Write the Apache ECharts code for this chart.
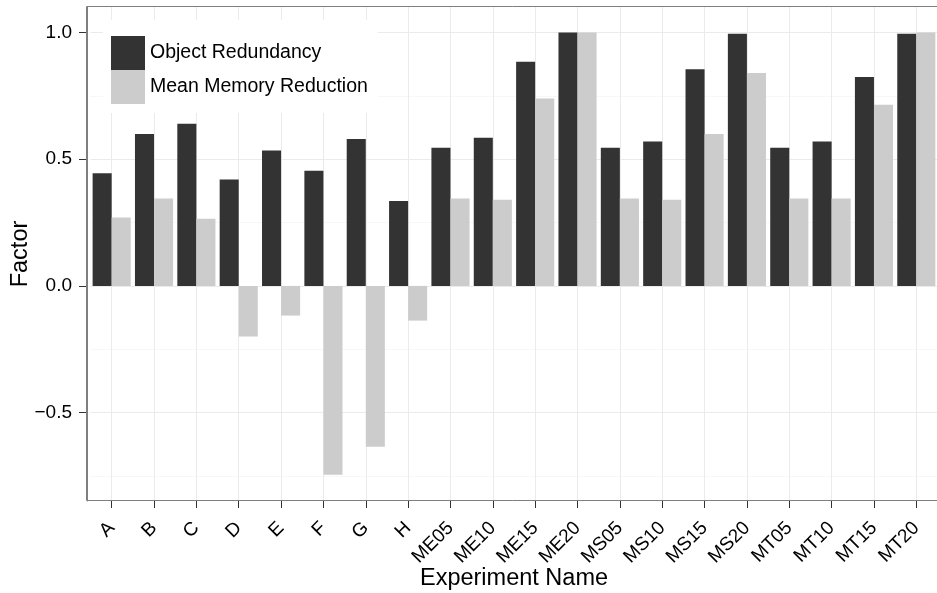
<!DOCTYPE html>
<html>
<head>
<meta charset="utf-8">
<script src="https://cdn.jsdelivr.net/npm/echarts@6/dist/echarts.min.js"></script>
<style>
html,body{margin:0;padding:0;background:#fff;}
#c{width:937px;height:593px;}
</style>
</head>
<body>
<div id="c"></div>
<script>
var categories = ['A','B','C','D','E','F','G','H','ME05','ME10','ME15','ME20','MS05','MS10','MS15','MS20','MT05','MT10','MT15','MT20'];
var objectRedundancy = [0.445, 0.60, 0.64, 0.42, 0.535, 0.455, 0.58, 0.335, 0.545, 0.585, 0.885, 1.0, 0.545, 0.57, 0.855, 0.995, 0.545, 0.57, 0.825, 0.995];
var meanMemoryReduction = [0.27, 0.345, 0.265, -0.20, -0.117, -0.745, -0.635, -0.137, 0.345, 0.34, 0.74, 1.0, 0.345, 0.34, 0.60, 0.84, 0.345, 0.345, 0.715, 1.0];
var majorTicks = [-0.5, 0, 0.5, 1.0];
var minorTicks = [-0.75, -0.25, 0.25, 0.75];
var yMin = -0.849, yMax = 1.101;

var FONT = '"Liberation Sans", Arial, Helvetica, sans-serif';
var chart = echarts.init(document.getElementById('c'), null, {renderer: 'canvas'});
chart.setOption({
  animation: false,
  backgroundColor: '#fff',
  textStyle: {fontFamily: FONT},
  grid: {left: 90.5, top: 7, width: 847, height: 494, containLabel: false, outerBoundsMode: 'none'},
  legend: {
    orient: 'vertical', left: 103, top: 20,
    padding: [16, 10, 9, 8],
    backgroundColor: '#fff',
    itemWidth: 34, itemHeight: 34, itemGap: 0,
    icon: 'rect',
    textStyle: {fontSize: 19.5, color: '#000', fontFamily: FONT},
    data: ['Object Redundancy', 'Mean Memory Reduction'],
    z: 10
  },
  xAxis: {
    type: 'category', data: categories,
    name: 'Experiment Name', nameLocation: 'middle', nameGap: 66, nameMoveOverlap: false,
    nameTextStyle: {fontSize: 23.5, color: '#000', fontFamily: FONT},
    axisLine: {show: false, onZero: false},
    axisTick: {show: true, alignWithLabel: true, length: 7, lineStyle: {color: '#333', width: 1}},
    axisLabel: {rotate: 45, fontSize: 19, color: '#000', margin: 24, interval: 0, fontFamily: FONT},
    splitLine: {show: true, alignWithLabel: true, lineStyle: {color: '#EBEBEB', width: 1}}
  },
  yAxis: [{
    type: 'value', min: yMin, max: yMax, offset: 3.5,
    name: 'Factor', nameLocation: 'middle', nameGap: 54, nameMoveOverlap: false,
    nameTextStyle: {fontSize: 23.5, color: '#000', fontFamily: FONT},
    axisLine: {show: true, onZero: false, lineStyle: {color: '#7F7F7F', width: 1}},
    axisTick: {show: true, length: 8, customValues: majorTicks, lineStyle: {color: '#333', width: 1}},
    axisLabel: {fontSize: 19, color: '#000', margin: 15, customValues: majorTicks, fontFamily: FONT,
      formatter: function (v) { return (v < 0 ? '\u2212' : '') + Math.abs(v).toFixed(1); }},
    splitLine: {show: true, lineStyle: {color: '#EBEBEB', width: 1}}
  }, {
    type: 'value', min: yMin, max: yMax,
    axisLine: {show: false},
    axisTick: {show: false, customValues: minorTicks},
    axisLabel: {show: false, customValues: minorTicks},
    splitLine: {show: true, lineStyle: {color: '#F7F7F7', width: 1}}
  }],
  series: [{
    name: 'Object Redundancy', type: 'bar', data: objectRedundancy,
    barWidth: '45%', barGap: '0%',
    itemStyle: {color: '#333333'}
  }, {
    name: 'Mean Memory Reduction', type: 'bar', data: meanMemoryReduction,
    barWidth: '45%', barGap: '0%',
    itemStyle: {color: '#CCCCCC'}
  }],
  graphic: [{
    type: 'rect', z: 100, silent: true,
    shape: {x: 86.5, y: 6.5, width: 856, height: 494},
    style: {fill: 'none', stroke: '#7F7F7F', lineWidth: 1}
  }]
});
</script>
</body>
</html>
